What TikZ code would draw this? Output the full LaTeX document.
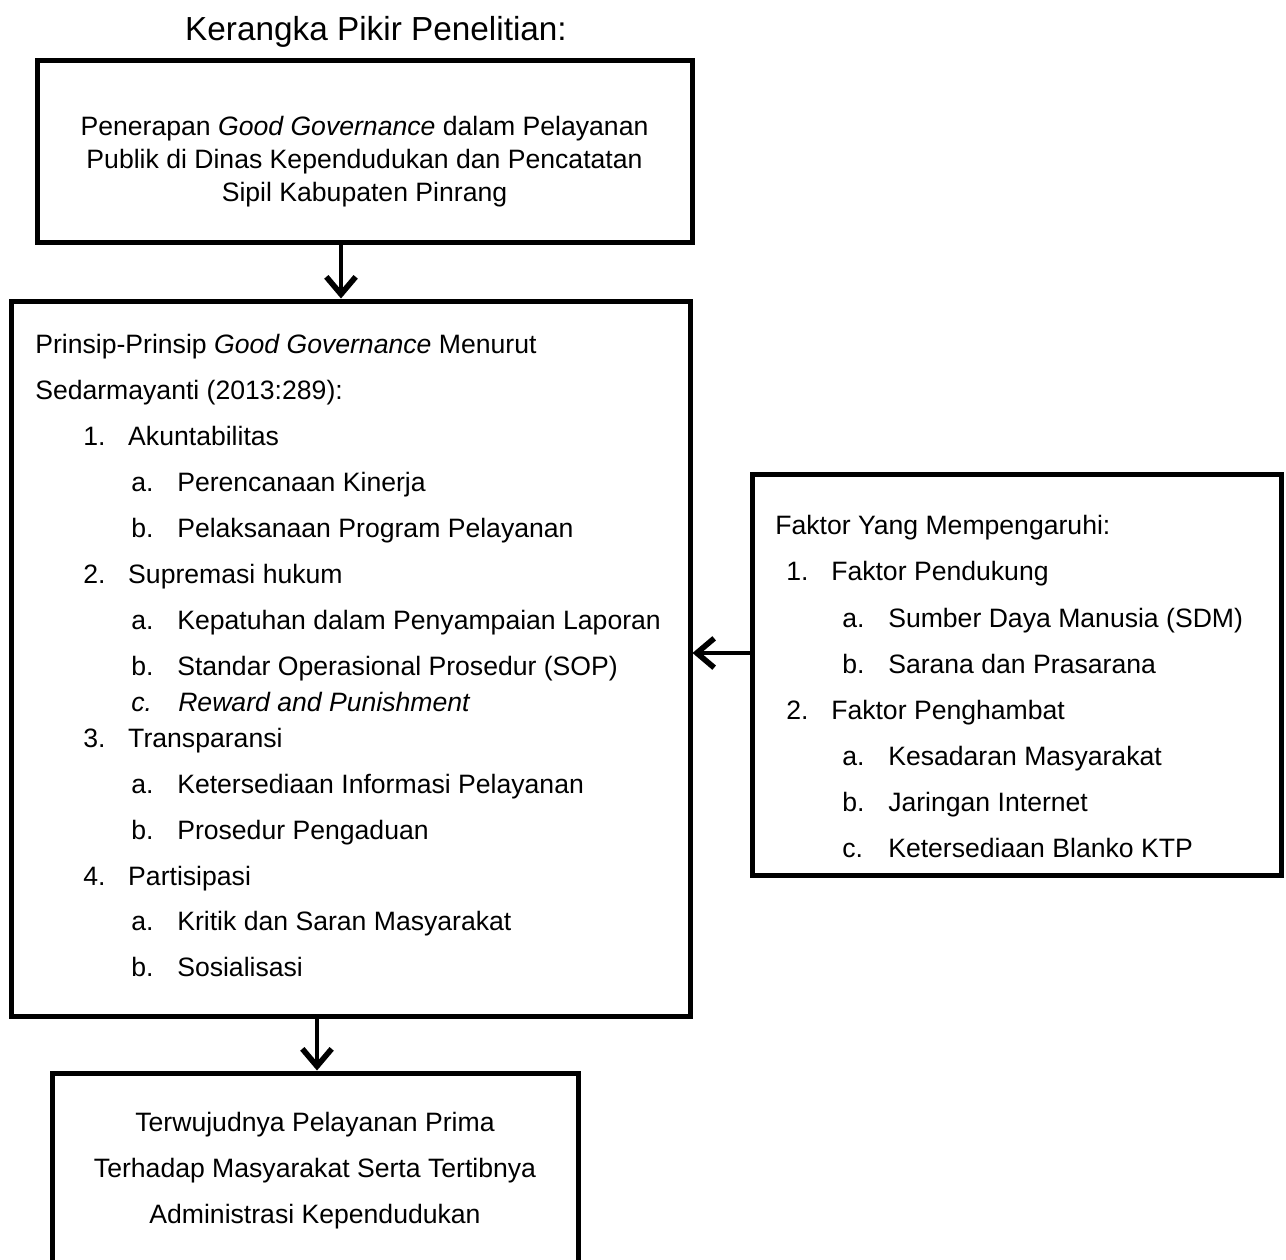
\documentclass[tikz,border=0pt]{standalone}
\usepackage{fontspec}
\setmainfont{Liberation Sans}
\usetikzlibrary{arrows.meta}
\newcommand\bodyfont{\fontsize{19.95pt}{24pt}\selectfont}
\newcommand\titlefont{\fontsize{25pt}{30pt}\selectfont}
\newcommand\lbl[2]{\makebox[#1][l]{#2}}
\begin{document}
\begin{tikzpicture}[x=0.75pt,y=-0.75pt,
  box/.style={draw, line width=3.75pt, rectangle, inner sep=0pt},
  txt/.style={anchor=base west, inner sep=0pt, font=\bodyfont},
  ctxt/.style={anchor=base, inner sep=0pt, font=\bodyfont},
  arr/.style={line width=3.6pt, -{Straight Barb[length=13pt,width=22pt,line width=4.2pt]}}]
\useasboundingbox (0,0) rectangle (1286,1260);
% title
\node[anchor=base, inner sep=0pt, font=\titlefont] (title) at (376,40) {Kerangka Pikir Penelitian:};
% boxes
\node[box, minimum width=491.25pt, minimum height=136.5pt] (top) at (364.5,151) {};
\node[box, minimum width=509.25pt, minimum height=536.25pt] (mid) at (350.5,658.5) {};
\node[box, minimum width=396.75pt, minimum height=300.75pt] (right) at (1016.5,674.5) {};
\node[box, minimum width=394.5pt, minimum height=170.25pt] (bot) at (315,1186.5) {};
% top text
\node[ctxt] (t1) at (364.5,135) {Penerapan \textit{Good Governance} dalam Pelayanan};
\node[ctxt] (t2) at (364.5,168) {Publik di Dinas Kependudukan dan Pencatatan};
\node[ctxt] (t3) at (364.5,201) {Sipil Kabupaten Pinrang};
% middle text
\node[txt] (m1) at (35,353) {Prinsip-Prinsip \textit{Good Governance} Menurut};
\node[txt] (m2) at (35,399) {Sedarmayanti (2013:289):};
\node[txt] (m3) at (83,445) {\lbl{33.75pt}{1.}Akuntabilitas};
\node[txt] (m4) at (131,491) {\lbl{34.5pt}{a.}Perencanaan Kinerja};
\node[txt] (m5) at (131,537) {\lbl{34.5pt}{b.}Pelaksanaan Program Pelayanan};
\node[txt] (m6) at (83,583) {\lbl{33.75pt}{2.}Supremasi hukum};
\node[txt] (m7) at (131,629) {\lbl{34.5pt}{a.}Kepatuhan dalam Penyampaian Laporan};
\node[txt] (m8) at (131,675) {\lbl{34.5pt}{b.}Standar Operasional Prosedur (SOP)};
\node[txt] (m9) at (131,711) {\itshape\lbl{35.25pt}{c.}Reward and Punishment};
\node[txt] (m10) at (83,747) {\lbl{33.75pt}{3.}Transparansi};
\node[txt] (m11) at (131,793) {\lbl{34.5pt}{a.}Ketersediaan Informasi Pelayanan};
\node[txt] (m12) at (131,839) {\lbl{34.5pt}{b.}Prosedur Pengaduan};
\node[txt] (m13) at (83,885) {\lbl{33.75pt}{4.}Partisipasi};
\node[txt] (m14) at (131,930) {\lbl{34.5pt}{a.}Kritik dan Saran Masyarakat};
\node[txt] (m15) at (131,976) {\lbl{34.5pt}{b.}Sosialisasi};
% right text
\node[txt] (r1) at (775,534) {Faktor Yang Mempengaruhi:};
\node[txt] (r2) at (786,580) {\lbl{33.75pt}{1.}Faktor Pendukung};
\node[txt] (r3) at (842,627) {\lbl{34.5pt}{a.}Sumber Daya Manusia (SDM)};
\node[txt] (r4) at (842,673) {\lbl{34.5pt}{b.}Sarana dan Prasarana};
\node[txt] (r5) at (786,719) {\lbl{33.75pt}{2.}Faktor Penghambat};
\node[txt] (r6) at (842,765) {\lbl{34.5pt}{a.}Kesadaran Masyarakat};
\node[txt] (r7) at (842,811) {\lbl{34.5pt}{b.}Jaringan Internet};
\node[txt] (r8) at (842,857) {\lbl{34.5pt}{c.}Ketersediaan Blanko KTP};
% bottom text
\node[ctxt] (b1) at (315,1131) {Terwujudnya Pelayanan Prima};
\node[ctxt] (b2) at (315,1177) {Terhadap Masyarakat Serta Tertibnya};
\node[ctxt] (b3) at (315,1223) {Administrasi Kependudukan};
% connectors
\coordinate (ax1) at (341,0);
\coordinate (ax2) at (317,0);
\coordinate (ay) at (0,653);
\draw[arr] (top.south -| ax1) -- (mid.north -| ax1);
\draw[arr] (right.west |- ay) -- (mid.east |- ay);
\draw[arr] (mid.south -| ax2) -- (bot.north -| ax2);
\end{tikzpicture}
\end{document}
